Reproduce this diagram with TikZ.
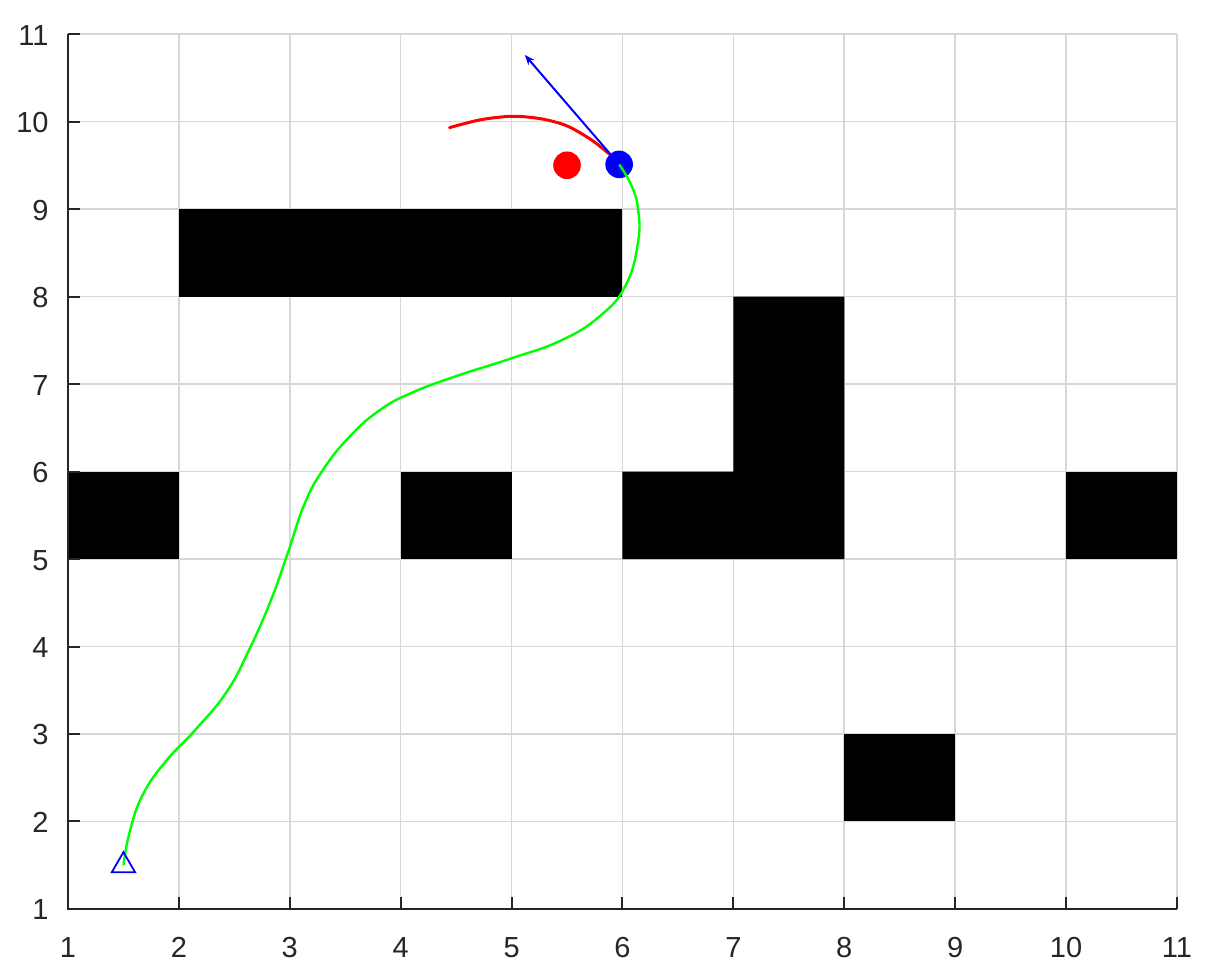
\documentclass[tikz,border=0pt]{standalone}
\usepackage{fontspec}
\setmainfont{Liberation Sans}
\usetikzlibrary{arrows.meta}
\definecolor{axc}{RGB}{38,38,38}
\definecolor{gridc}{RGB}{215,215,215}
\definecolor{pgreen}{RGB}{0,255,0}
\definecolor{pred}{RGB}{255,0,0}
\definecolor{pblue}{RGB}{0,0,255}
\tikzset{
  gridline/.style={draw=gridc,line width=0.8pt},
  axisline/.style={draw=axc,line width=1pt},
  obst/.style={fill=black},
  ticklbl/.style={font=\fontsize{14.5}{16}\selectfont,text=axc,inner sep=0pt},
  pathline/.style={draw=pgreen,line width=1.2pt,line join=round},
  arcline/.style={draw=pred,line width=1.5pt,line cap=round},
  headline/.style={draw=pblue,line width=1pt},
}
\begin{document}
\begin{tikzpicture}[x=55.45pt,y=43.75pt]
\useasboundingbox[fill=white] (0.3868,0.2114) rectangle (11.316,11.389);
% grid
\foreach \i in {2,...,11} \draw[gridline] (\i,1) -- (\i,11);
\foreach \i in {2,...,11} \draw[gridline] (1,\i) -- (11,\i);
% obstacles
\fill[obst] (2,8) rectangle (6,9);
\fill[obst] (1,5) rectangle (2,6);
\fill[obst] (4,5) rectangle (5,6);
\fill[obst] (6,5) -- (8,5) -- (8,8) -- (7,8) -- (7,6) -- (6,6) -- cycle;
\fill[obst] (10,5) rectangle (11,6);
\fill[obst] (8,2) rectangle (9,3);
% axes
\draw[axisline] (1,11) -- (1,1) -- (11,1);
\foreach \i in {2,...,11} \draw[axisline] (\i,1) -- ++(0,6pt);
\foreach \i in {2,...,11} \draw[axisline] (1,\i) -- ++(6pt,0);
\foreach \i in {1,...,11} \node[ticklbl,anchor=base,yshift=-24.5pt] (xl\i) at (\i,1) {\i};
\foreach \i in {1,...,11} \node[ticklbl,anchor=base east,xshift=-9.5pt,yshift=-5.5pt] (yl\i) at (1,\i) {\i};
% dots
\fill[pred] (5.5,9.5) circle (6.9pt);
\fill[pblue] (5.97,9.51) circle (6.9pt);
% path
\draw[pathline] plot[smooth,tension=0.75] coordinates {(1.5,1.5) (1.56,1.9) (1.68,2.32) (1.89,2.70) (2.15,3.05) (2.43,3.48) (2.64,3.98) (2.83,4.53) (2.98,5.06) (3.13,5.62) (3.30,6.02) (3.54,6.40) (3.81,6.70) (4.10,6.90) (4.50,7.09) (4.99,7.29) (5.45,7.50) (5.80,7.78) (6.03,8.13) (6.14,8.62) (6.14,9.0) (6.08,9.27) (5.97,9.51)};
% predicted arc
\draw[arcline] plot[smooth] coordinates {(4.44,9.93) (4.72,10.02) (5.01,10.06) (5.27,10.03) (5.50,9.95) (5.72,9.79) (5.88,9.63)};
% heading
\draw[headline,-{Stealth[length=5pt,width=4pt]}] (5.97,9.51) -- (5.12,10.76);
% start marker
\draw[draw=pblue,line width=0.9pt,line join=miter] (1.5,1.65) -- (1.395,1.42) -- (1.605,1.42) -- cycle;
\end{tikzpicture}
\end{document}
